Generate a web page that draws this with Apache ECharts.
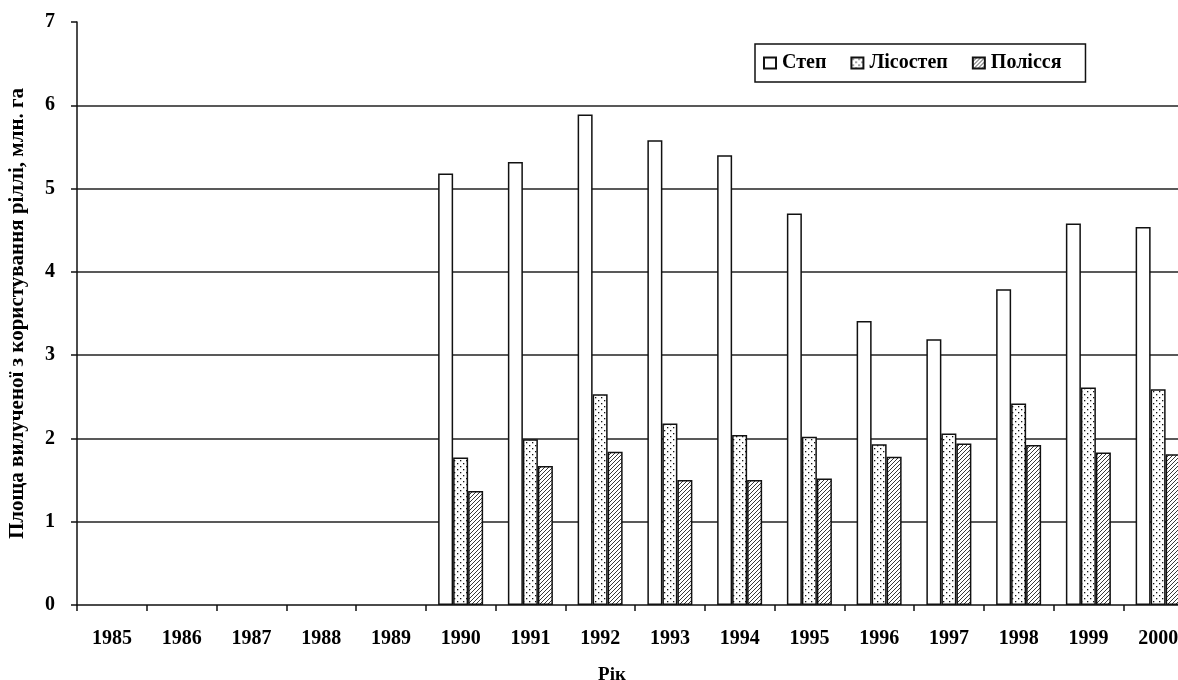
<!DOCTYPE html>
<html>
<head>
<meta charset="utf-8">
<script src="https://cdn.jsdelivr.net/npm/echarts@6/dist/echarts.min.js"></script>
<style>
html,body{margin:0;padding:0;background:#fff;}
#chart{width:1178px;height:680px;}
</style>
</head>
<body>
<div id="chart"></div>
<script>
const years = ['1985','1986','1987','1988','1989','1990','1991','1992','1993','1994','1995','1996','1997','1998','1999','2000'];
const stepValues = [null,null,null,null,null,5.18,5.32,5.89,5.58,5.40,4.70,3.41,3.19,3.79,4.58,4.54];
const lisostepValues = [null,null,null,null,null,1.77,1.99,2.53,2.18,2.04,2.02,1.93,2.06,2.42,2.61,2.59];
const polissyaValues = [null,null,null,null,null,1.37,1.67,1.84,1.50,1.50,1.52,1.78,1.94,1.92,1.83,1.81];
const seriesNames = ['Степ','Лісостеп','Полісся'];
const yTicks = [0,1,2,3,4,5,6,7];

function dotPattern(){
  const c = document.createElement('canvas');
  c.width = 6; c.height = 6;
  const g = c.getContext('2d');
  g.fillStyle = '#fff'; g.fillRect(0,0,6,6);
  g.fillStyle = '#111';
  g.fillRect(1,1,1.3,1.3);
  g.fillRect(4,4,1.3,1.3);
  return c;
}
function hatchPattern(){
  const c = document.createElement('canvas');
  c.width = 4; c.height = 4;
  const g = c.getContext('2d');
  g.fillStyle = '#fff'; g.fillRect(0,0,4,4);
  g.strokeStyle = '#222'; g.lineWidth = 0.9;
  g.beginPath();
  g.moveTo(-1,5); g.lineTo(5,-1);
  g.moveTo(-3,3); g.lineTo(3,-3);
  g.moveTo(1,7); g.lineTo(7,1);
  g.stroke();
  return c;
}

const font = "'Liberation Serif','Times New Roman',serif";
const chart = echarts.init(document.getElementById('chart'));
const barStyle = (color) => ({ color: color, borderColor: '#111', borderWidth: 1.5 });

chart.setOption({
  animation: false,
  backgroundColor: '#fff',
  grid: { left: 77, width: 1116, top: 22, height: 583, containLabel: false, outerBoundsMode: 'none' },
  legend: {
    data: seriesNames,
    left: 755, top: 44,
    padding: [9, 24, 9, 8],
    itemWidth: 12, itemHeight: 11, itemGap: 24,
    borderColor: '#111', borderWidth: 1.5, backgroundColor: '#fff',
    icon: 'rect',
    textStyle: { fontFamily: font, fontWeight: 'bold', fontSize: 20, color: '#000', padding: [0,0,0,1] }
  },
  xAxis: {
    type: 'category',
    data: years,
    boundaryGap: true,
    name: 'Рік',
    nameLocation: 'middle',
    nameGap: 61,
    nameTextStyle: { fontFamily: font, fontWeight: 'bold', fontSize: 19, color: '#000', padding: [0, 46, 0, 0] },
    axisLine: { lineStyle: { color: '#111', width: 1.5 } },
    axisTick: { show: true, alignWithLabel: false, length: 6, lineStyle: { color: '#111', width: 1.5 } },
    axisLabel: { fontFamily: font, fontWeight: 'bold', fontSize: 20, color: '#000', margin: 24 },
    splitLine: { show: false }
  },
  yAxis: {
    type: 'value',
    min: 0, max: 7, interval: 1,
    name: 'Площа вилученої з користування ріллі, млн. га',
    nameLocation: 'middle',
    nameGap: 49,
    nameRotate: 90,
    nameTextStyle: { fontFamily: font, fontWeight: 'bold', fontSize: 21, color: '#000' },
    axisLine: { show: true, lineStyle: { color: '#111', width: 1.5 } },
    axisTick: { show: true, inside: false, length: 6, lineStyle: { color: '#111', width: 1.5 } },
    axisLabel: { fontFamily: font, fontWeight: 'bold', fontSize: 20, color: '#000', margin: 22,
      formatter: (v) => yTicks.indexOf(v) >= 0 ? String(v) : '' },
    splitLine: { show: true, showMinLine: false, showMaxLine: false, lineStyle: { color: '#222', width: 1.5 } }
  },
  series: [
    { name: seriesNames[0], type: 'bar', data: stepValues, barWidth: 15, barGap: '0%', itemStyle: barStyle('#fff') },
    { name: seriesNames[1], type: 'bar', data: lisostepValues, barWidth: 15, barGap: '0%', itemStyle: barStyle({ image: dotPattern(), repeat: 'repeat' }) },
    { name: seriesNames[2], type: 'bar', data: polissyaValues, barWidth: 15, barGap: '0%', itemStyle: barStyle({ image: hatchPattern(), repeat: 'repeat' }) }
  ]
});
</script>
</body>
</html>
